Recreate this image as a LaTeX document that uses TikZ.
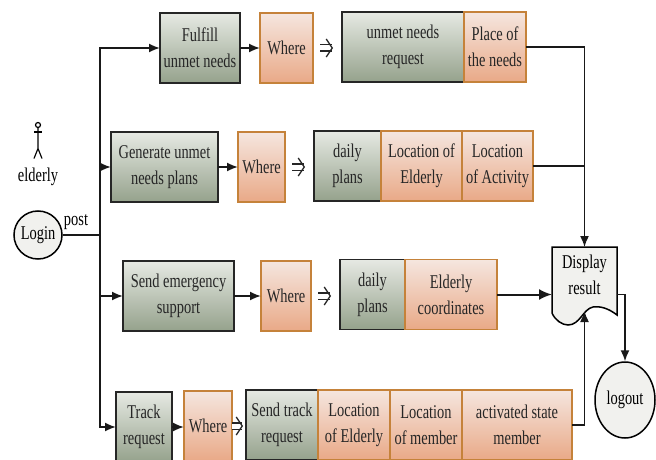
\documentclass[tikz,border=0pt]{standalone}
\usepackage{fontspec}
\setmainfont[FakeStretch=0.74]{Liberation Serif}
\usetikzlibrary{calc,positioning,arrows,arrows.meta,shapes}
\definecolor{boxline}{HTML}{C5823A}
\definecolor{softfill}{HTML}{F1F1EE}
\definecolor{tasktop}{HTML}{E6E9E3}
\definecolor{taskbottom}{HTML}{95A28C}
\definecolor{infotop}{HTML}{F5E6DF}
\definecolor{infobottom}{HTML}{E9A987}

\begin{document}
\begin{tikzpicture}[x=1pt,y=-1pt,font=\fontsize{19.5}{26}\selectfont,
    box/.style={rectangle,align=center,inner sep=0pt,outer sep=0pt,line width=1.5pt,text=black!85},
    task/.style={box,draw=black!85,top color=tasktop,bottom color=taskbottom,minimum height=70pt},
    info/.style={box,draw=boxline,top color=infotop,bottom color=infobottom,minimum height=70pt},
    flow/.style={-{Latex[length=11pt,width=9pt]},line width=1.8pt,black!90},
    link/.style={line width=1.5pt,black!90},
    turn/.style={double,double distance=5pt,line width=1.1pt,-{Straight Barb[length=6pt,width=18pt,line width=1.3pt]},black!85}]
  \useasboundingbox (0,0) rectangle (656,460);

  % first row
  \node[task,minimum width=80pt] (fulfill) at (200,48) {Fulfill\\unmet needs};
  \node[info,minimum width=53pt] (where1) at (286.5,48) {Where};
  \node[task,minimum width=122pt] (needreq) at (403,47) {unmet needs\\request};
  \node[info,minimum width=62pt] (place) at (495,47) {Place of\\the needs};

  % second row
  \node[task,minimum width=107pt] (generate) at (164.5,167) {Generate unmet\\needs plans};
  \node[info,minimum width=47pt] (where2) at (261.5,167) {Where};
  \node[task,minimum width=67pt] (plans1) at (347.5,166) {daily\\plans};
  \node[info,minimum width=81pt] (locelder1) at (421.5,166) {Location of\\Elderly};
  \node[info,minimum width=71pt] (locact) at (497.5,166) {Location\\of Activity};

  % third row
  \node[task,minimum width=111pt] (emergency) at (178.5,296) {Send emergency\\support};
  \node[info,minimum width=50pt] (where3) at (286,296) {Where};
  \node[task,minimum width=65pt] (plans2) at (372.5,294.5) {daily\\plans};
  \node[info,minimum width=92pt] (coords) at (451,294.5) {Elderly\\coordinates};

  % fourth row
  \node[task,minimum width=56pt] (track) at (144,427) {Track\\request};
  \node[info,minimum width=48pt] (where4) at (208,426) {Where};
  \node[task,minimum width=72pt] (sendtrack) at (282,425) {Send track\\request};
  \node[info,minimum width=72pt] (locelder2) at (354,425) {Location\\of Elderly};
  \node[info,minimum width=72pt] (locmember) at (426,425) {Location\\of member};
  \node[info,minimum width=110pt] (state) at (517,425) {activated state\\member};

  % user side
  \node[circle,draw,line width=1.5pt,fill=softfill,minimum size=48pt,inner sep=0pt] (login) at (38,235) {Login};
  \node[inner sep=0pt] (elderly) at (38,177) {elderly};
  \node[inner sep=0pt] (post) at (76,222) {post};
  \coordinate (head) at (38,125);
  \draw[line width=1.2pt] (head) circle (2.5pt);
  \draw[line width=1.2pt] ($(head)+(0,2.5)$) -- ++(0,21) -- ++(-4,10) ++(4,-10) -- ++(4,10);
  \draw[line width=1.2pt] ($(head)+(-4,7)$) -- ++(8,0);

  % display and logout
  \node[rectangle,minimum width=65pt,minimum height=70pt,inner sep=0pt,outer sep=0pt] (display) at (584.5,282) {};
  \draw[line width=1.5pt,fill=softfill] (display.north west) -- (display.north east) -- (617,315)
     .. controls (608,308) and (600,306) .. (593,307) .. controls (583,309) and (580,325) .. (568,325)
     .. controls (562,325) and (555,320) .. (552,313) -- cycle;
  \node[align=center,inner sep=0pt] (displaytext) at (584.5,275) {Display\\result};
  \node[ellipse,draw,line width=1.5pt,fill=softfill,minimum width=60pt,minimum height=76pt,inner sep=0pt] (logout) at (625,400) {logout};

  % bus and arrows
  \coordinate (bus) at (100,235);
  \draw[link] (login.east) -- (bus);
  \draw[flow] (bus) |- (fulfill.west);
  \draw[flow] (bus) |- (generate.west);
  \draw[flow] (bus) |- (emergency.west);
  \draw[flow] (bus) |- (track.west);
  \draw[flow] (fulfill) -- (where1);
  \draw[flow] (generate) -- (where2);
  \draw[flow] (emergency) -- (where3);
  \draw[flow] (track.east) -- (where4.west |- track.east);
  \draw[turn,shorten <=7pt,shorten >=9pt] (where1.east) -- (where1.east -| needreq.west);
  \draw[turn,shorten <=7pt,shorten >=9pt] (where2.east) -- (where2.east -| plans1.west);
  \draw[turn,shorten <=7pt,shorten >=9pt] (where3.east) -- (where3.east -| plans2.west);
  \draw[turn,shorten <=0pt,shorten >=3pt] (where4.east) -- (where4.east -| sendtrack.west);
  \draw[link] (place.east) -| (locact.east -| display.north);
  \draw[link,-{Latex[length=11pt,width=9pt]}] (locact.east) -| (display.north);
  \draw[flow,line width=2pt,-{Latex[length=13pt,width=11pt]}] (coords.east) -- (coords.east -| display.west);
  \draw[link,-{Latex[length=11pt,width=9pt]}] (state.east) -| ($(display.south)+(0,-6)$);
  \draw[link,-{Latex[length=11pt,width=9pt]}] (display.east |- coords.east) -| (logout.north);
\end{tikzpicture}
\end{document}
